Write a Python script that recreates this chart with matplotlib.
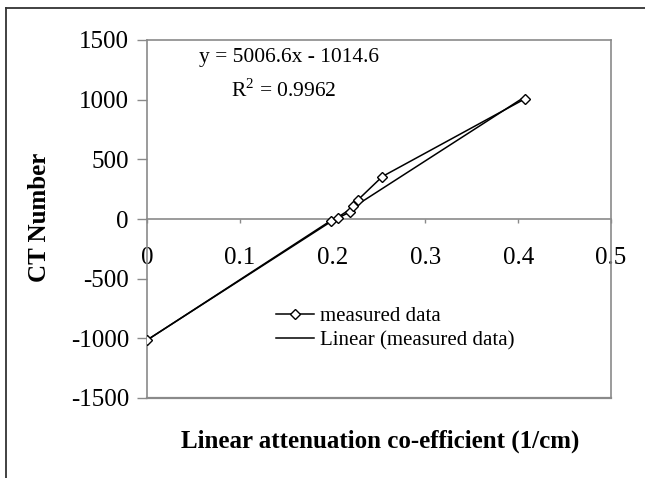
import numpy as np
import matplotlib
matplotlib.use("Agg")
from matplotlib import pyplot as plt
from matplotlib.lines import Line2D

# punkty pomiarowe
mu = [0.0, 0.198, 0.206, 0.219, 0.222, 0.227, 0.2536, 0.407]
ct = [-1015, -14, 8, 61, 106, 158, 356, 1006]

# linia trendu (z równania na wykresie)
slope = 5006.6
intercept = -1014.6
r2 = 0.9962

x_ticks = [0, 0.1, 0.2, 0.3, 0.4, 0.5]
x_labels = ['0', '0.1', '0.2', '0.3', '0.4', '0.5']
y_ticks = [-1500, -1000, -500, 0, 500, 1000, 1500]
y_labels = ['-1500', '-1000', '-500', '0', '500', '1000', '1500']

W, H = 645, 478
GRAY = '#8a8a8a'

plt.rcParams['font.family'] = ['Liberation Serif', 'DejaVu Serif']
plt.rcParams['mathtext.fontset'] = 'custom'
plt.rcParams['mathtext.rm'] = 'Liberation Serif'


def main():
    fig = plt.figure(figsize=(W / 100, H / 100), dpi=100)
    ax = fig.add_axes([147 / W, 1 - 398 / H, (611 - 147) / W, (398 - 40) / H])

    # pomiary
    ax.plot(mu, ct, color='black', lw=1.1, marker='D', markersize=5,
            markerfacecolor='white', markeredgecolor='black', markeredgewidth=1.0,
            label='measured data', zorder=4)
    # linia trendu
    xs = np.array([min(mu), max(mu)])
    ax.plot(xs, slope * xs + intercept, color='black', lw=1.1,
            label='Linear (measured data)', zorder=3)

    ax.set_xlim(0, 0.5)
    ax.set_ylim(-1500, 1500)
    ax.set_xticks(x_ticks)
    ax.set_xticklabels(x_labels)
    ax.set_yticks(y_ticks)
    ax.set_yticklabels(y_labels)

    for s in ['left', 'top', 'right', 'bottom']:
        ax.spines[s].set_color(GRAY)
        ax.spines[s].set_linewidth(1.2)
    ax.spines['bottom'].set_position(('data', 0))
    # dolna krawędź ramki
    ax.plot([0, 1], [0, 0], transform=ax.transAxes, color=GRAY, lw=1.6,
            clip_on=False, zorder=5)

    ax.tick_params(axis='y', direction='out', length=7, width=1, color=GRAY,
                   labelsize=18, pad=6)
    ax.tick_params(axis='x', direction='out', length=3, width=1, color=GRAY,
                   labelsize=18, pad=17)

    fig.text(40 / W, 1 - 217 / H, 'CT Number', rotation=90, ha='center', va='center',
             fontsize=18, fontweight='bold')
    fig.text(380 / W, 1 - 441 / H, 'Linear attenuation co-efficient (1/cm)',
             ha='center', va='center', fontsize=18, fontweight='bold')

    fig.text(289 / W, 1 - 57 / H, 'y = 5006.6x - 1014.6', ha='center', va='center',
             fontsize=15.5)
    fig.text(284 / W, 1 - 90 / H, 'R$^2$ = %.4f' % r2, ha='center', va='center',
             fontsize=15.5)

    ax.legend(loc='upper left', bbox_to_anchor=(266 / W, 1 - 296 / H),
              bbox_transform=fig.transFigure, frameon=False, fontsize=15,
              borderpad=0, handlelength=1.8, handletextpad=0.3, labelspacing=0.25)

    # ramka całego obrazka (góra i lewa strona)
    fig.add_artist(Line2D([6 / W, 1], [1 - 7.5 / H] * 2, transform=fig.transFigure,
                          color='#333333', lw=1.3))
    fig.add_artist(Line2D([6 / W] * 2, [0, 1 - 7.5 / H], transform=fig.transFigure,
                          color='#333333', lw=1.3))

    fig.savefig('out.png', dpi=100)


if __name__ == "__main__":
    main()
